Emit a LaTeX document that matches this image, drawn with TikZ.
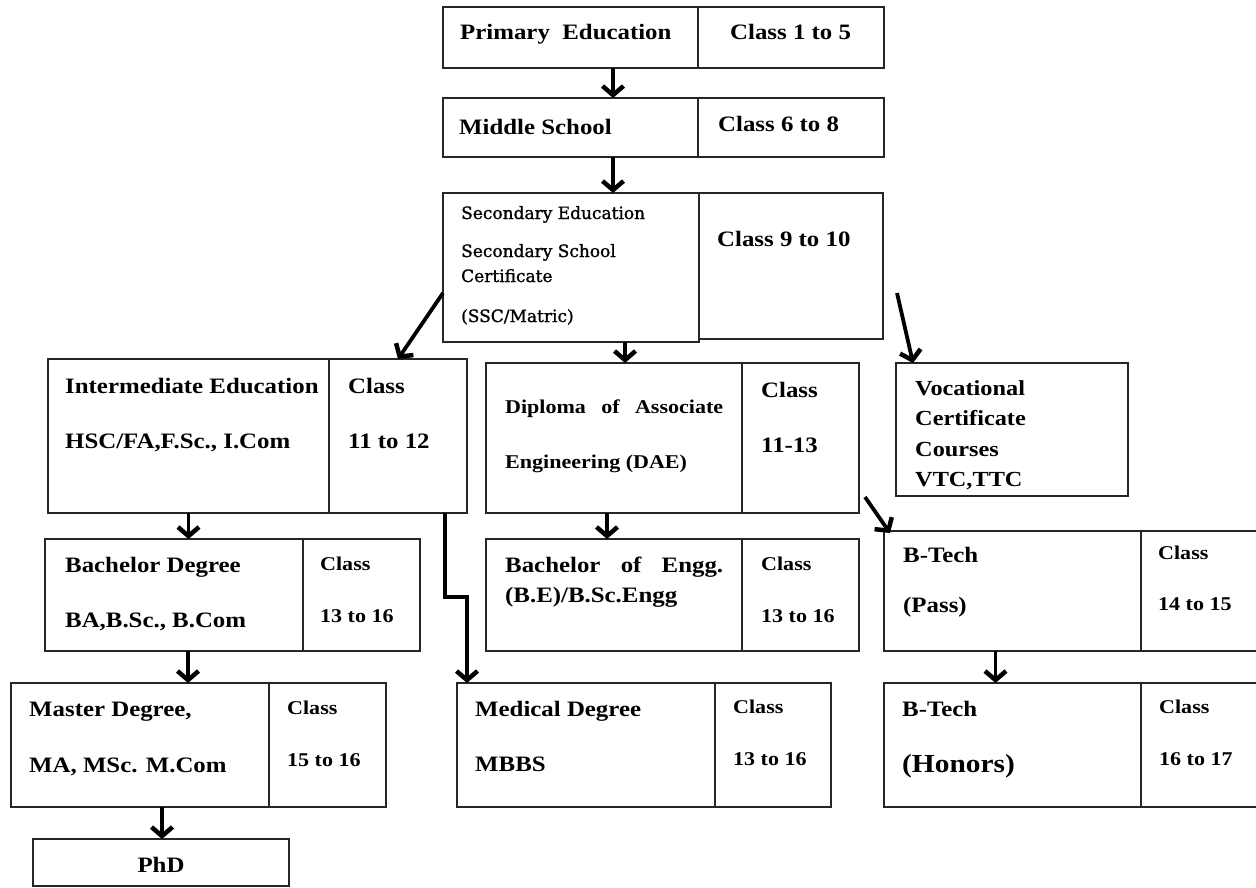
\documentclass[tikz,border=0pt]{standalone}
\usepackage{fontspec}
\setmainfont{Liberation Serif}[FakeStretch=1.13]
\newfontfamily\secfont{DejaVu Serif}[FakeBold=1.2]
\usetikzlibrary{positioning, arrows.meta}

\begin{document}
\begin{tikzpicture}[
    x=1pt, y=-1pt,
    cell/.style={draw=black!85, line width=1.2pt, anchor=north west, inner sep=0pt, outer sep=0pt},
    lbl/.style={anchor=base west, inner sep=0pt, font=\bfseries\fontsize{22}{26}\selectfont},
    sml/.style={lbl, font=\bfseries\fontsize{19.5}{23}\selectfont},
    sectxt/.style={anchor=base west, inner sep=0pt, font=\secfont\fontsize{17}{20}\selectfont},
    arrow/.style={-{Straight Barb[length=9pt, width=21pt, line width=4.5pt]}, line width=3.8pt}
]
\useasboundingbox (0,0) rectangle (1256,888);

% school years
\node[cell, minimum width=255pt, minimum height=61pt] (prim) at (443,7) {};
\node[cell, minimum width=186pt, minimum height=61pt, right=0pt of prim] (primR) {};
\node[lbl] (primT) at (460,40) {Primary\ \ Education};
\node[lbl] (primC) at (730,40) {Class 1 to 5};

\node[cell, minimum width=255pt, minimum height=59pt] (mid) at (443,98) {};
\node[cell, minimum width=186pt, minimum height=59pt, right=0pt of mid] (midR) {};
\node[lbl] (midT) at (459,135) {Middle School};
\node[lbl] (midC) at (718,132) {Class 6 to 8};

\node[cell, minimum width=256pt, minimum height=149pt] (sec) at (443,193) {};
\node[cell, minimum width=184pt, minimum height=146pt, right=0pt of sec.north east, anchor=north west] (secR) {};
\node[sectxt] (secT) at (461,219) {Secondary Education};
\node[sectxt] (secS) at (461,257) {Secondary School};
\node[sectxt] (secU) at (461,282) {Certificate};
\node[sectxt] (secV) at (461,322) {(SSC/Matric)};
\node[lbl] (secC) at (717,246) {Class 9 to 10};

% after matric
\node[cell, minimum width=281pt, minimum height=154pt] (inter) at (48,359) {};
\node[cell, minimum width=138pt, minimum height=154pt, right=0pt of inter] (interR) {};
\node[lbl] (interT) at (65,393) {Intermediate\ Education};
\node[lbl] (interS) at (65,448) {HSC/FA,F.Sc., I.Com};
\node[lbl] (interC) at (348,393) {Class};
\node[lbl] (interY) at (348,448) {11 to 12};

\node[cell, minimum width=256pt, minimum height=150pt] (dae) at (486,363) {};
\node[cell, minimum width=117pt, minimum height=150pt, right=0pt of dae] (daeR) {};
\node[sml] (daeT) at (505,413) {\makebox[218pt][s]{Diploma\hfill of\hfill Associate}};
\node[sml] (daeS) at (505,468) {Engineering (DAE)};
\node[lbl] (daeC) at (761,397) {Class};
\node[lbl] (daeY) at (761,452) {11-13};

\node[cell, minimum width=232pt, minimum height=133pt] (voc) at (896,363) {};
\node[lbl, anchor=north west, align=left, font=\bfseries\fontsize{21.5}{30.5}\selectfont] (vocT) at (915,380) {Vocational\\Certificate\\Courses\\VTC,TTC};

% degrees
\node[cell, minimum width=258pt, minimum height=112pt] (bach) at (45,539) {};
\node[cell, minimum width=117pt, minimum height=112pt, right=0pt of bach] (bachR) {};
\node[lbl] (bachT) at (65,572) {Bachelor Degree};
\node[lbl] (bachS) at (65,627) {BA,B.Sc., B.Com};
\node[sml] (bachC) at (320,570) {Class};
\node[sml] (bachY) at (320,622) {13 to 16};

\node[cell, minimum width=256pt, minimum height=112pt] (be) at (486,539) {};
\node[cell, minimum width=117pt, minimum height=112pt, right=0pt of be] (beR) {};
\node[lbl] (beT) at (505,572) {\makebox[218pt][s]{Bachelor\hfill of\hfill Engg.}};
\node[lbl] (beS) at (505,602) {(B.E)/B.Sc.Engg};
\node[sml] (beC) at (761,570) {Class};
\node[sml] (beY) at (761,622) {13 to 16};

\node[cell, minimum width=257pt, minimum height=120pt] (btp) at (884,531) {};
\node[cell, minimum width=116pt, minimum height=120pt, right=0pt of btp] (btpR) {};
\node[lbl] (btpT) at (903,562) {B-Tech};
\node[lbl] (btpS) at (903,612) {(Pass)};
\node[sml] (btpC) at (1158,559) {Class};
\node[sml] (btpY) at (1158,610) {14 to 15};

\node[cell, minimum width=258pt, minimum height=124pt] (mast) at (11,683) {};
\node[cell, minimum width=117pt, minimum height=124pt, right=0pt of mast] (mastR) {};
\node[lbl] (mastT) at (29,716) {Master Degree,};
\node[lbl] (mastS) at (29,772) {MA, MSc. M.Com};
\node[sml] (mastC) at (287,714) {Class};
\node[sml] (mastY) at (287,766) {15 to 16};

\node[cell, minimum width=258pt, minimum height=124pt] (med) at (457,683) {};
\node[cell, minimum width=116pt, minimum height=124pt, right=0pt of med] (medR) {};
\node[lbl] (medT) at (475,716) {Medical Degree};
\node[lbl] (medS) at (475,771) {MBBS};
\node[sml] (medC) at (733,713) {Class};
\node[sml] (medY) at (733,765) {13 to 16};

\node[cell, minimum width=257pt, minimum height=124pt] (bth) at (884,683) {};
\node[cell, minimum width=116pt, minimum height=124pt, right=0pt of bth] (bthR) {};
\node[lbl] (bthT) at (902,716) {B-Tech};
\node[lbl, font=\bfseries\fontsize{26}{30}\selectfont] (bthS) at (902,772) {(Honors)};
\node[sml] (bthC) at (1159,713) {Class};
\node[sml] (bthY) at (1159,765) {16 to 17};

\node[cell, minimum width=256pt, minimum height=47pt] (phd) at (33,839) {};
\node[lbl, anchor=base] (phdT) at (161,872) {PhD};

% arrows
\draw[arrow] ([xshift=42.5pt]prim.south) -- ([xshift=42.5pt]mid.north);
\draw[arrow] ([xshift=42.5pt]mid.south) -- ([xshift=42pt]sec.north);
\draw[arrow] ([xshift=54pt]sec.south) -- ([xshift=11pt]dae.north);
\draw[arrow] ([yshift=-25.5pt]sec.west) -- (interR.north);
\draw[arrow] ([xshift=14pt,yshift=-27pt]secR.east) -- ([xshift=17pt]voc.north west);
\draw[arrow] (inter.south) -- ([xshift=14.5pt]bach.north);
\draw[arrow] ([xshift=47pt]interR.south) -- ++(0,84) -| ([xshift=10pt]med.north west);
\draw[arrow] ([xshift=-7pt]dae.south) -- ([xshift=-7pt]be.north);
\draw[arrow] ([xshift=6pt,yshift=16pt]daeR.south east) -- ([xshift=6pt,yshift=-2pt]btp.north west);
\draw[arrow] ([xshift=14pt]bach.south) -- ([xshift=48pt]mast.north);
\draw[arrow] ([xshift=22pt]mast.south) -- ([xshift=1pt]phd.north);
\draw[arrow] ([xshift=-17pt]btp.south) -- ([xshift=-17pt]bth.north);

\end{tikzpicture}
\end{document}
